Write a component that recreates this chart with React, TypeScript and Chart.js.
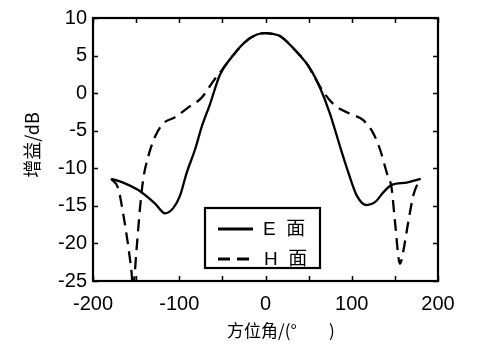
import React, { useEffect, useRef } from "react";
import { Chart, registerables } from "chart.js";

Chart.register(...registerables);

// E-plane (solid)
const eAngles = [-179, -165, -147.5, -128, -116.5, -107, -99, -91.4, -81.7, -74, -64.3, -52.8, -39.2, -23.8, -10, 0, 8, 16.8, 36.1, 51.6, 63.2, 74.8, 86.4, 96, 105.7, 117.3, 127, 136.6, 146.3, 163.7, 180];
const eGain = [-11.4, -11.9, -12.9, -14.7, -16.0, -15.3, -13.6, -10.6, -7.5, -4.5, -1.45, 2.45, 4.8, 6.8, 7.8, 8.0, 7.9, 7.6, 5.5, 3.3, 0.72, -2.75, -7.1, -10.55, -13.6, -14.9, -14.5, -13.2, -12.2, -11.9, -11.4];

// H-plane (dashed)
const hAngles = [-179, -170.7, -164.8, -159, -155.2, -153.8, -149.3, -145.5, -141.7, -135.9, -128.1, -118.5, -104.9, -89.5, -74, -60.5, -51, -39.2, -23.8, -10, 0, 8, 16.8, 36.1, 48, 55.4, 65.1, 78.6, 97.9, 113.4, 125, 132.8, 140.5, 146.3, 150.1, 155.9, 159.8, 165.6, 171.4, 177.2, 180];
const hGain = [-11.4, -12.7, -16.2, -20.5, -24.0, -26, -20.5, -15.3, -11.4, -8.4, -5.8, -4.05, -3.2, -1.9, -0.6, 1.6, 3.0, 4.8, 6.8, 7.8, 8.0, 7.9, 7.6, 5.5, 3.9, 2.45, 0.5, -1.45, -2.75, -3.6, -5.35, -7.5, -10.55, -12.7, -17.1, -22.7, -21.0, -17.1, -13.6, -11.9, -11.4];

const xTickMin = -200;
const xTickMax = 200;
const yTickMin = -25;
const yTickMax = 10;

const legendLabels = ["E  面", "H  面"];
const xTitleMain = "方位角/(°";
const xTitleClose = ")";
const yTitle = "增益/dB";

const LATIN = '"Liberation Sans", Arial, "Noto Sans CJK SC", sans-serif';
const CJK = '"Noto Sans CJK SC", "Liberation Sans", sans-serif';

const framePlugin = {
  id: "framePlugin",
  afterDraw(chart: any) {
    const { ctx, chartArea: a, scales } = chart;
    ctx.save();
    ctx.strokeStyle = "#000";
    ctx.lineWidth = 2.2;
    ctx.strokeRect(a.left, a.top, a.right - a.left, a.bottom - a.top);
    ctx.lineWidth = 1.5;
    const tl = 5;
    ctx.beginPath();
    for (const t of scales.x.ticks) {
      const px = Math.round(scales.x.getPixelForValue(t.value)) + 0.5;
      ctx.moveTo(px, a.bottom);
      ctx.lineTo(px, a.bottom - tl);
      ctx.moveTo(px, a.top);
      ctx.lineTo(px, a.top + tl);
    }
    for (const t of scales.y.ticks) {
      const py = Math.round(scales.y.getPixelForValue(t.value)) + 0.5;
      ctx.moveTo(a.left, py);
      ctx.lineTo(a.left + tl, py);
      ctx.moveTo(a.right, py);
      ctx.lineTo(a.right - tl, py);
    }
    ctx.stroke();

    // axis titles
    ctx.fillStyle = "#000";
    ctx.font = `17px ${CJK}`;
    ctx.textBaseline = "middle";
    ctx.textAlign = "left";
    ctx.fillText(xTitleMain, 227, 331);
    ctx.fillText(xTitleClose, 329, 331);

    ctx.save();
    ctx.translate(32, 145);
    ctx.rotate(-Math.PI / 2);
    ctx.textAlign = "center";
    ctx.font = `18px ${CJK}`;
    ctx.fillText(yTitle, 0, 0);
    ctx.restore();

    // legend
    const lx = 205, ly = 208, lw = 115, lh = 60;
    ctx.fillStyle = "#fff";
    ctx.fillRect(lx, ly, lw, lh);
    ctx.lineWidth = 2.2;
    ctx.strokeStyle = "#000";
    ctx.strokeRect(lx, ly, lw, lh);
    const rows = [229, 259];
    chart.data.datasets.forEach((ds: any, i: number) => {
      ctx.beginPath();
      ctx.lineWidth = 2.8;
      ctx.setLineDash(ds.borderDash || []);
      ctx.moveTo(218, rows[i]);
      ctx.lineTo(253, rows[i]);
      ctx.stroke();
      ctx.setLineDash([]);
      ctx.fillStyle = "#000";
      ctx.font = `19px ${LATIN}`;
      ctx.textAlign = "left";
      ctx.textBaseline = "middle";
      ctx.fillText(legendLabels[i], i === 0 ? 263 : 264, rows[i] + 1);
    });
    ctx.restore();
  },
};

export default function App() {
  const ref = useRef<HTMLCanvasElement | null>(null);
  useEffect(() => {
    if (!ref.current) return;
    const chart = new Chart(ref.current, {
      type: "line",
      data: {
        datasets: [
          {
            label: legendLabels[0],
            data: eAngles.map((x, i) => ({ x, y: eGain[i] })),
            borderColor: "#000",
            borderWidth: 2.3,
            pointRadius: 0,
            cubicInterpolationMode: "monotone",
            fill: false,
            clip: 0,
          },
          {
            label: legendLabels[1],
            data: hAngles.map((x, i) => ({ x, y: hGain[i] })),
            borderColor: "#000",
            borderWidth: 2.3,
            borderDash: [12, 7],
            pointRadius: 0,
            cubicInterpolationMode: "monotone",
            fill: false,
            clip: 0,
          },
        ],
      },
      options: {
        animation: false,
        responsive: false,
        layout: { padding: { top: 12, right: 59, left: 0, bottom: 0 } },
        plugins: { legend: { display: false }, tooltip: { enabled: false } },
        scales: {
          x: {
            type: "linear",
            min: xTickMin,
            max: xTickMax,
            grid: { display: false, drawTicks: false },
            border: { display: false },
            ticks: {
              stepSize: 50,
              autoSkip: false,
              maxRotation: 0,
              padding: 11,
              color: "#000",
              font: { family: LATIN, size: 20 },
              callback: (v: any) => (Number(v) % 100 === 0 ? String(v) : ""),
            },
            afterFit: (s: any) => {
              s.height = 68;
            },
          },
          y: {
            type: "linear",
            min: yTickMin,
            max: yTickMax,
            grid: { display: false, drawTicks: false },
            border: { display: false },
            ticks: {
              stepSize: 5,
              padding: 6,
              color: "#000",
              font: { family: LATIN, size: 20 },
            },
            afterFit: (s: any) => {
              s.width = 93;
            },
          },
        },
      },
      plugins: [framePlugin],
    } as any);
    return () => chart.destroy();
  }, []);
  return (
    <div style={{ position: "absolute", left: 0, top: 0, width: 497, height: 349, background: "#fff" }}>
      <canvas ref={ref} width={497} height={349} />
    </div>
  );
}
